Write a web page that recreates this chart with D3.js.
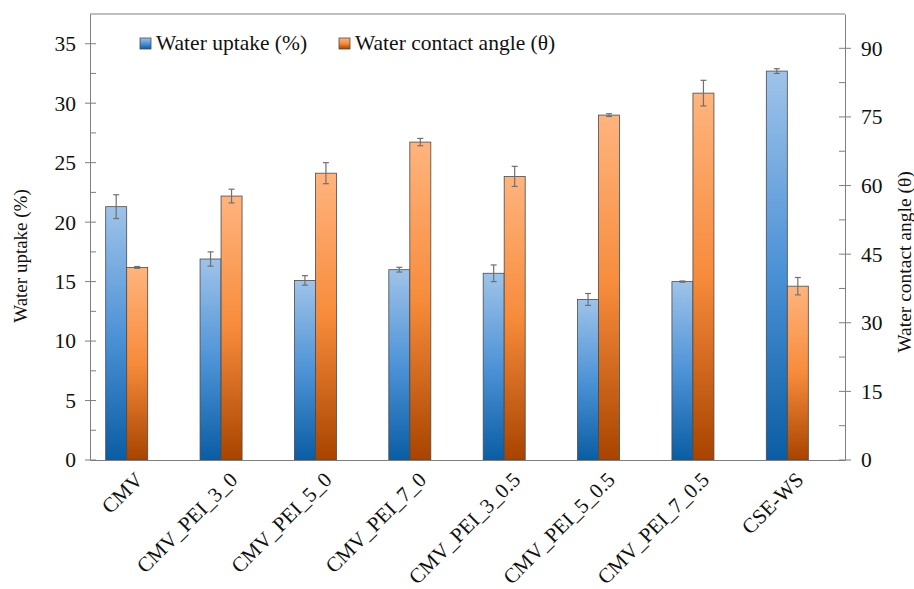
<!DOCTYPE html>
<html>
<head>
<meta charset="utf-8">
<script src="https://cdn.jsdelivr.net/npm/d3@7"></script>
</head>
<body style="margin:0; background:#fff">
<svg id="chart" width="914" height="589"></svg>
<script>
// data
const categories = ['CMV', 'CMV_PEI_3_0', 'CMV_PEI_5_0', 'CMV_PEI_7_0',
  'CMV_PEI_3_0.5', 'CMV_PEI_5_0.5', 'CMV_PEI_7_0.5', 'CSE-WS'];
const waterUptake = [21.3, 16.9, 15.1, 16.0, 15.7, 13.5, 15.0, 32.7];
const uptakeErr = [1.0, 0.6, 0.4, 0.2, 0.7, 0.5, 0.05, 0.2];
const contactAngle = [42.1, 57.7, 62.7, 69.5, 62.0, 75.4, 80.2, 38.0];
const angleErr = [0.2, 1.5, 2.3, 0.8, 2.2, 0.3, 2.8, 1.9];
const leftTicks = [0, 5, 10, 15, 20, 25, 30, 35];
const rightTicks = [0, 15, 30, 45, 60, 75, 90];

const FONT = "'Liberation Serif', 'Tinos', 'Times New Roman'";

const margin = { top: 14, right: 69, bottom: 129, left: 90 };
const width = 914 - margin.left - margin.right;
const height = 589 - margin.top - margin.bottom;

const svg = d3.select('#chart');

const defs = svg.append('defs');
const addGrad = (id, stops) => {
  const g = defs.append('linearGradient')
    .attr('id', id)
    .attr('x1', 0).attr('y1', 0).attr('x2', 0).attr('y2', 1);
  stops.forEach(s => g.append('stop').attr('offset', s[0]).attr('stop-color', s[1]));
};
addGrad('gBlue', [[0, '#9fc3e9'], [0.5, '#4e93d7'], [1, '#0a5da4']]);
addGrad('gOrange', [[0, '#ffb47e'], [0.5, '#f78b3b'], [1, '#a84400']]);

const chart = svg.append('g')
  .attr('transform', `translate(${margin.left}, ${margin.top})`);

const x0 = d3.scaleBand()
  .domain(categories)
  .range([0, width])
  .padding(0);

// third slot is left empty, like the original layout
const x1 = d3.scaleBand()
  .domain(['uptake', 'angle', 'none'])
  .range([0, x0.bandwidth()])
  .paddingInner(0)
  .paddingOuter(0.747);

const yL = d3.scaleLinear().domain([0, 37.5]).range([height, 0]);
const yR = d3.scaleLinear().domain([0, 97.5]).range([height, 0]);

const axisColor = '#7f7f7f';

// top frame line
chart.append('line')
  .attr('x1', 0).attr('x2', width)
  .attr('y1', 0).attr('y2', 0)
  .attr('stroke', axisColor).attr('stroke-width', 1);

// bars
const series = [
  { key: 'uptake', vals: waterUptake, err: uptakeErr, y: yL, fill: 'url(#gBlue)' },
  { key: 'angle', vals: contactAngle, err: angleErr, y: yR, fill: 'url(#gOrange)' }
];

series.forEach(s => {
  const g = chart.append('g');
  g.selectAll('rect')
    .data(categories)
    .enter()
    .append('rect')
    .attr('x', d => x0(d) + x1(s.key))
    .attr('y', (d, i) => s.y(s.vals[i]))
    .attr('width', x1.bandwidth())
    .attr('height', (d, i) => height - s.y(s.vals[i]))
    .attr('fill', s.fill)
    .attr('stroke', '#4a4a4a')
    .attr('stroke-width', 0.8);

  const eb = g.selectAll('.err')
    .data(categories)
    .enter()
    .append('g')
    .attr('stroke', '#707070')
    .attr('stroke-width', 1.2);
  const cx = d => x0(d) + x1(s.key) + x1.bandwidth() / 2;
  eb.append('line')
    .attr('x1', cx).attr('x2', cx)
    .attr('y1', (d, i) => s.y(s.vals[i] + s.err[i]))
    .attr('y2', (d, i) => s.y(s.vals[i] - s.err[i]));
  [1, -1].forEach(sign => {
    eb.append('line')
      .attr('x1', d => cx(d) - 3).attr('x2', d => cx(d) + 3)
      .attr('y1', (d, i) => s.y(s.vals[i] + sign * s.err[i]))
      .attr('y2', (d, i) => s.y(s.vals[i] + sign * s.err[i]));
  });
});

const styleText = (sel, size = 21.5) => sel
  .style('font-family', FONT)
  .style('font-size', size + 'px')
  .attr('fill', '#111');

// left axis
const yAxisL = d3.axisLeft(yL).tickValues(leftTicks).tickSize(0).tickPadding(14);
const gL = chart.append('g').call(yAxisL).attr('font-family', null);
gL.select('.domain').attr('stroke', axisColor);
gL.selectAll('text').call(styleText);
const minorL = d3.range(2.5, 37.5, 5);
gL.selectAll('.minor').data(minorL).enter().append('line')
  .attr('x1', 0).attr('x2', 6)
  .attr('y1', d => yL(d)).attr('y2', d => yL(d))
  .attr('stroke', axisColor);
gL.selectAll('.major').data(leftTicks).enter().append('line')
  .attr('x1', -5).attr('x2', 6)
  .attr('y1', d => yL(d)).attr('y2', d => yL(d))
  .attr('stroke', axisColor);

// right axis
const yAxisR = d3.axisRight(yR).tickValues(rightTicks).tickSize(0).tickPadding(16);
const gR = chart.append('g')
  .attr('transform', `translate(${width}, 0)`)
  .call(yAxisR)
  .attr('font-family', null);
gR.select('.domain').attr('stroke', axisColor);
gR.selectAll('text').call(styleText);
const minorR = d3.range(7.5, 97.5, 15);
gR.selectAll('.minor').data(minorR).enter().append('line')
  .attr('x1', -6).attr('x2', 0)
  .attr('y1', d => yR(d)).attr('y2', d => yR(d))
  .attr('stroke', axisColor);
gR.selectAll('.major').data(rightTicks).enter().append('line')
  .attr('x1', -6).attr('x2', 6)
  .attr('y1', d => yR(d)).attr('y2', d => yR(d))
  .attr('stroke', axisColor);

// bottom axis
const xAxis = d3.axisBottom(x0).tickSize(0).tickPadding(0);
const gX = chart.append('g')
  .attr('transform', `translate(0, ${height})`)
  .call(xAxis)
  .attr('font-family', null);
gX.select('.domain').attr('stroke', axisColor);
gX.selectAll('text')
  .call(styleText, 21)
  .attr('text-anchor', 'end')
  .attr('dy', 0)
  .attr('transform', 'translate(7, 21) rotate(-45)');

// axis titles
svg.append('text')
  .attr('transform', 'translate(27, 256) rotate(-90)')
  .attr('text-anchor', 'middle')
  .call(styleText, 19)
  .text('Water uptake (%)');

svg.append('text')
  .attr('transform', 'translate(911, 262) rotate(-90)')
  .attr('text-anchor', 'middle')
  .call(styleText, 19.5)
  .text('Water contact angle (θ)');

// legend
const legend = svg.append('g');
const legendItems = [
  { label: 'Water uptake (%)', fill: 'url(#gBlue)', x: 140 },
  { label: 'Water contact angle (θ)', fill: 'url(#gOrange)', x: 339 }
];
legendItems.forEach(l => {
  legend.append('rect')
    .attr('x', l.x).attr('y', 38)
    .attr('width', 11).attr('height', 11)
    .attr('fill', l.fill)
    .attr('stroke', '#4a4a4a').attr('stroke-width', 0.8);
  legend.append('text')
    .attr('x', l.x + 16).attr('y', 50)
    .call(styleText)
    .text(l.label);
});
</script>
</body>
</html>
